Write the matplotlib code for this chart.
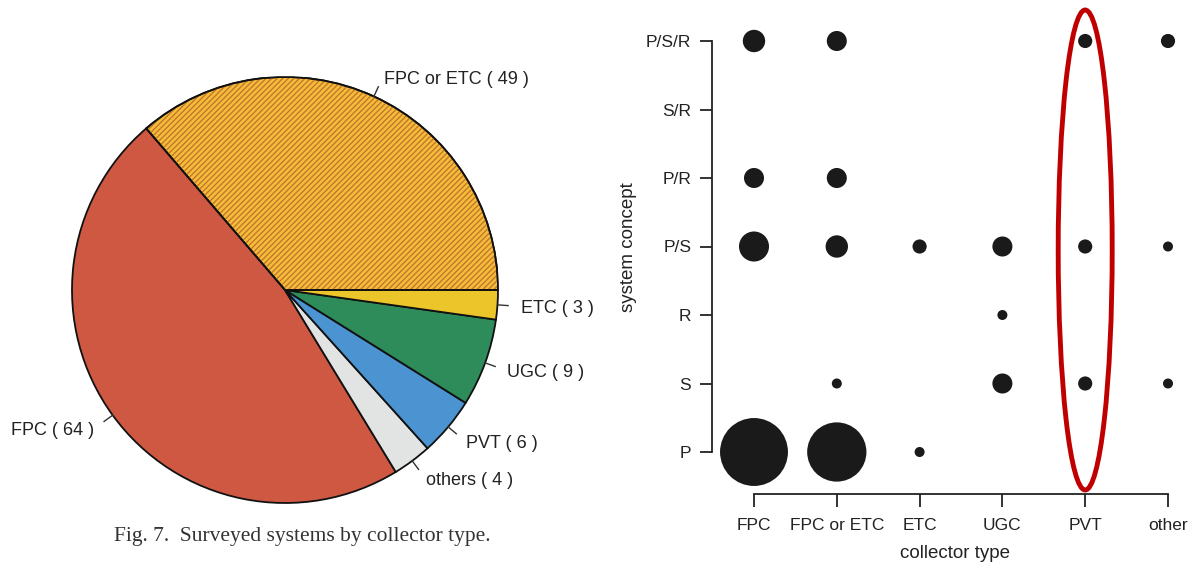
import numpy as np
import matplotlib
matplotlib.use("Agg")
import matplotlib.pyplot as plt
from matplotlib.patches import Ellipse, Wedge

# pie data (counter-clockwise from 3 o'clock)
pie_names = ["FPC or ETC", "FPC", "others", "PVT", "UGC", "ETC"]
pie_counts = [49, 64, 4, 6, 9, 3]
pie_colors = ["#F3BE3A", "#CF5843", "#E2E3E3", "#4B93D1", "#2E8B5A", "#EBC52A"]

# bubble data
collector = ["FPC", "FPC or ETC", "ETC", "UGC", "PVT", "other"]
concept = ["P", "S", "R", "P/S", "P/R", "S/R", "P/S/R"]
# counts[collector][concept]
counts = {
    "FPC":        [46, 0, 0, 9, 4, 0, 5],
    "FPC or ETC": [35, 1, 0, 5, 4, 0, 4],
    "ETC":        [1, 0, 0, 2, 0, 0, 0],
    "UGC":        [0, 4, 1, 4, 0, 0, 0],
    "PVT":        [0, 2, 0, 2, 0, 0, 2],
    "other":      [0, 1, 0, 1, 0, 0, 2],
}

W, H = 1199, 568
plt.rcParams['font.family'] = ['Liberation Sans', 'DejaVu Sans']
plt.rcParams['hatch.linewidth'] = 1.0
fig = plt.figure(figsize=(W / 100, H / 100), dpi=100)
txt = "#222222"

# ---------------- left: pie ----------------
cx, cy, r = 285, 290, 213
ax1 = fig.add_axes([(cx - r) / W, (H - cy - r) / H, 2 * r / W, 2 * r / H])
wedges, _ = ax1.pie(pie_counts, colors=pie_colors, startangle=0, counterclock=True,
                    wedgeprops=dict(edgecolor="#111111", linewidth=1.3))
# hatch overlay for the "FPC or ETC" slice in a brownish colour
w0 = wedges[0]
ax1.add_patch(Wedge(w0.center, w0.r, w0.theta1, w0.theta2, facecolor="none",
                    edgecolor="#C7752C", linewidth=0, hatch="//////", zorder=w0.get_zorder() + 0.1))
ax1.add_patch(Wedge(w0.center, w0.r, w0.theta1, w0.theta2, facecolor="none",
                    edgecolor="#111111", linewidth=1.3, zorder=w0.get_zorder() + 0.2))

total = sum(pie_counts)
start = 0.0
for name, c in zip(pie_names, pie_counts):
    mid = np.deg2rad(start + 360 * c / total / 2)
    start += 360 * c / total
    ca, sa = np.cos(mid), np.sin(mid)
    ax1.plot([ca, 1.05 * ca], [sa, 1.05 * sa], color="#333333", lw=1.0, clip_on=False)
    ax1.text(1.11 * ca, 1.1 * sa - 0.012, "%s ( %d )" % (name, c), fontsize=13, color=txt,
             ha="left" if ca > 0 else "right", va="center")
ax1.set_xlim(-1, 1)
ax1.set_ylim(-1, 1)
ax1.set_aspect("auto")
ax1.axis("off")

fig.text(302 / W, 1 - 537 / H, "Fig. 7.  Surveyed systems by collector type.",
         family=["Liberation Serif", "DejaVu Serif"], fontsize=15.5, color="#333333",
         ha="center", va="center")

# ---------------- right: bubbles ----------------
x0px, dxpx = 754, (1168 - 754) / 5
y0px, dypx = 452, (452 - 41) / 6
xl = (-(x0px - 712) / dxpx, (W - x0px) / dxpx)
yl = (-(494 - y0px) / dypx, (y0px - 0) / dypx)
ax2 = fig.add_axes([712 / W, (H - 494) / H, (W - 712) / W, 494 / H])
ax2.set_xlim(*xl)
ax2.set_ylim(*yl)

for i, col in enumerate(collector):
    for j, n in enumerate(counts[col]):
        if n > 0:
            ax2.scatter(i, j, s=52 * n, color="#1a1a1a", edgecolors="none", zorder=3, clip_on=False)

ax2.add_patch(Ellipse((4, (y0px - 250) / dypx), 54 / dxpx, 480 / dypx, fill=False,
                      edgecolor="#C00000", linewidth=3.5, clip_on=False, zorder=4))

for s in ["top", "right"]:
    ax2.spines[s].set_visible(False)
ax2.spines["left"].set_bounds(0, 6)
ax2.spines["bottom"].set_bounds(0, 5)
for s in ["left", "bottom"]:
    ax2.spines[s].set_linewidth(1.3)
    ax2.spines[s].set_color("#222222")
ax2.set_xticks(range(len(collector)))
ax2.set_xticklabels(collector)
ax2.set_yticks(range(len(concept)))
ax2.set_yticklabels(concept)
ax2.tick_params(axis="both", length=9, width=1.3, color="#222222", labelsize=12.5,
                labelcolor=txt)
ax2.tick_params(axis="x", pad=8)
ax2.tick_params(axis="y", pad=6)
ax2.set_xlabel("collector type", fontsize=13.5, color=txt, labelpad=9)
ax2.set_ylabel("system concept", fontsize=13.5, color=txt, labelpad=6)

fig.savefig("out.png", dpi=100)
